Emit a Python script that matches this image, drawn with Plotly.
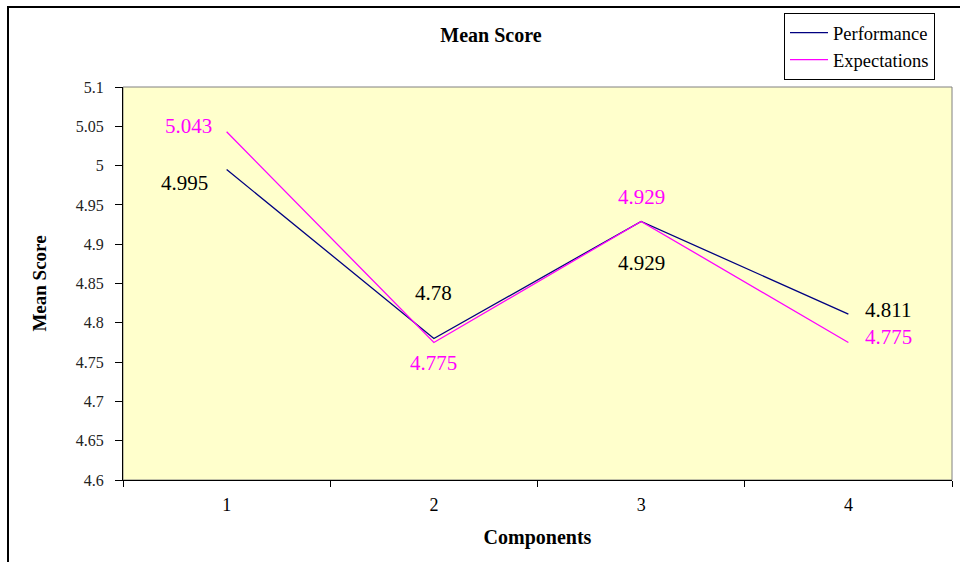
import plotly.graph_objects as go

categories = ["1", "2", "3", "4"]
performance = [4.995, 4.78, 4.929, 4.811]
expectations = [5.043, 4.775, 4.929, 4.775]
y_ticks = [4.6, 4.65, 4.7, 4.75, 4.8, 4.85, 4.9, 4.95, 5.0, 5.05, 5.1]
y_tick_labels = ["4.6", "4.65", "4.7", "4.75", "4.8", "4.85", "4.9", "4.95", "5", "5.05", "5.1"]

# label offsets in pixels (style)
perf_offsets = [(-42, -13), (0, 46), (0, -42), (40, 4)]
exp_offsets = [(-38, 6), (0, -21), (0, 24), (40, 5)]

FONT = "Liberation Serif"
fig = go.Figure()
fig.add_trace(go.Scatter(x=categories, y=performance, mode="lines", name="Performance",
                         line=dict(color="#000080", width=1.3)))
fig.add_trace(go.Scatter(x=categories, y=expectations, mode="lines", name="Expectations",
                         line=dict(color="#FF00FF", width=1.3)))

annotations = []
for vals, offs, col in [(performance, perf_offsets, "#000000"), (expectations, exp_offsets, "#FF00FF")]:
    for i, (v, (dx, dy)) in enumerate(zip(vals, offs)):
        annotations.append(dict(x=i, y=v, xref="x", yref="y", text=f"{v:g}", showarrow=False,
                                xshift=dx, yshift=dy,
                                font=dict(family=FONT, size=21, color=col)))

fig.update_layout(
    width=960, height=562,
    margin=dict(l=123, r=8, t=87, b=82, autoexpand=False),
    paper_bgcolor="white", plot_bgcolor="#FFFFCC",
    title=dict(text="<b>Mean Score</b>", x=491/960, xanchor="center", y=1-35/562, yanchor="middle",
               font=dict(family=FONT, size=20, color="black")),
    legend=dict(x=(784-123)/829, y=(480-13)/393, xanchor="left", yanchor="top",
                bordercolor="black", borderwidth=1, bgcolor="white",
                font=dict(family=FONT, size=18.5, color="black"), tracegroupgap=0,
                itemwidth=38),
    annotations=annotations,
    showlegend=True,
)
fig.update_xaxes(type="category", range=[-0.5, 3.5], tickson="boundaries", ticks="outside", ticklen=6,
                 tickcolor="black",
                 showline=True, linecolor="black", linewidth=1, showgrid=False, zeroline=False,
                 tickfont=dict(family=FONT, size=18, color="black"), ticklabelstandoff=8,
                 title=dict(text="<b>Components</b>", font=dict(family=FONT, size=20, color="black"), standoff=16))
fig.update_yaxes(range=[4.6, 5.1], tickvals=y_ticks, ticktext=y_tick_labels, ticks="outside", ticklen=7,
                 tickcolor="black", showline=True, linecolor="black", linewidth=1, showgrid=False,
                 zeroline=False, tickfont=dict(family=FONT, size=16, color="#222"), ticklabelstandoff=8,
                 title=dict(text="<b>Mean Score</b>", font=dict(family=FONT, size=19, color="black"), standoff=24))

fig.add_shape(type="rect", xref="x domain", yref="y domain", x0=0, x1=1, y0=0, y1=1,
              line=dict(color="#808080", width=1), layer="below")
fig.add_shape(type="rect", xref="paper", yref="paper",
              x0=(8-123)/829, x1=(980-123)/829, y0=(480-580)/393, y1=(480-7)/393,
              line=dict(color="black", width=2), layer="below")

fig.write_html("out.html", config={"displayModeBar": False},
               post_script="document.body.style.margin='0';document.body.style.overflow='hidden';")
